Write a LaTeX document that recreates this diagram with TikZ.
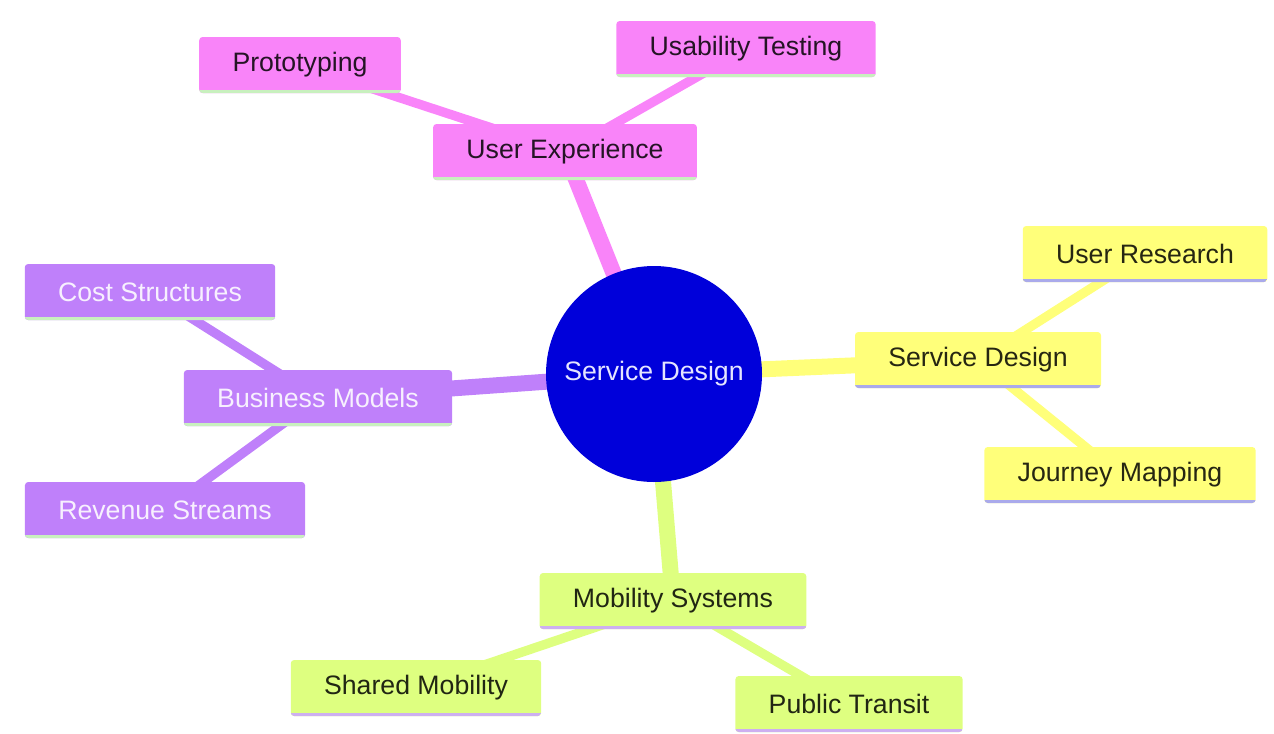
\documentclass[tikz,border=0pt]{standalone}
\usepackage{fontspec}
\setmainfont{Liberation Sans}
\usetikzlibrary{backgrounds}
\definecolor{uxpink}{RGB}{249,132,249}
\definecolor{bmpurple}{RGB}{191,128,250}
\definecolor{sdyellow}{RGB}{255,255,122}
\definecolor{msgreen}{RGB}{222,255,128}
\definecolor{rootblue}{RGB}{0,0,218}
\definecolor{lightgreen}{RGB}{200,240,190}
\definecolor{lavender}{RGB}{170,170,235}
\definecolor{lilac}{RGB}{205,175,240}
\tikzset{
  box/.style={rectangle, rounded corners=2.5pt, inner xsep=25pt, minimum height=42pt,
    font=\fontsize{20}{24}\selectfont},
  underline/.style={path picture={\draw[line width=5pt,#1]
    (path picture bounding box.south west) -- (path picture bounding box.south east);}},
  uxbox/.style={box, fill=uxpink, text=black!85!uxpink, underline=lightgreen},
  bmbox/.style={box, fill=bmpurple, text=white!88!bmpurple, underline=lightgreen},
  sdbox/.style={box, fill=sdyellow, text=black!85!sdyellow, underline=lavender},
  msbox/.style={box, fill=msgreen, text=black!85!msgreen, underline=lilac},
  trunk/.style={line width=12pt},
  twig/.style={line width=7pt}
}
\begin{document}
\begin{tikzpicture}[x=0.75pt,y=-0.75pt]
  \useasboundingbox (0,0) rectangle (1274,733);
  \node[circle, fill=rootblue, minimum size=162pt, text=white!90!blue,
        font=\fontsize{20}{24}\selectfont] (root) at (654,374) {Service Design};
  \node[uxbox] (ux) at (565,152) {User Experience};
  \node[uxbox] (proto) at (300,65) {Prototyping};
  \node[uxbox] (usab) at (746,49) {Usability Testing};
  \node[bmbox] (bm) at (318,398) {Business Models};
  \node[bmbox] (cost) at (150,292) {Cost Structures};
  \node[bmbox] (rev) at (165,510) {Revenue Streams};
  \node[sdbox] (sd) at (978,360) {Service Design};
  \node[sdbox] (ures) at (1145,254) {User Research};
  \node[sdbox] (jour) at (1120,475) {Journey Mapping};
  \node[msbox] (ms) at (673,601) {Mobility Systems};
  \node[msbox] (shared) at (416,688) {Shared Mobility};
  \node[msbox] (pub) at (849,704) {Public Transit};
  \begin{scope}[on background layer]
    \draw[trunk, uxpink] (root.center) -- (ux.center);
    \draw[trunk, bmpurple] (root.center) -- (bm.center);
    \draw[trunk, sdyellow] (root.center) -- (sd.center);
    \draw[trunk, msgreen] (root.center) -- (ms.center);
    \draw[twig, uxpink] (ux.center) -- (proto.center);
    \draw[twig, uxpink] (ux.center) -- (usab.center);
    \draw[twig, bmpurple] (bm.center) -- (cost.center);
    \draw[twig, bmpurple] (bm.center) -- (rev.center);
    \draw[twig, sdyellow] (sd.center) -- (ures.center);
    \draw[twig, sdyellow] (sd.center) -- (jour.center);
    \draw[twig, msgreen] (ms.center) -- (shared.center);
    \draw[twig, msgreen] (ms.center) -- (pub.center);
  \end{scope}
\end{tikzpicture}
\end{document}
